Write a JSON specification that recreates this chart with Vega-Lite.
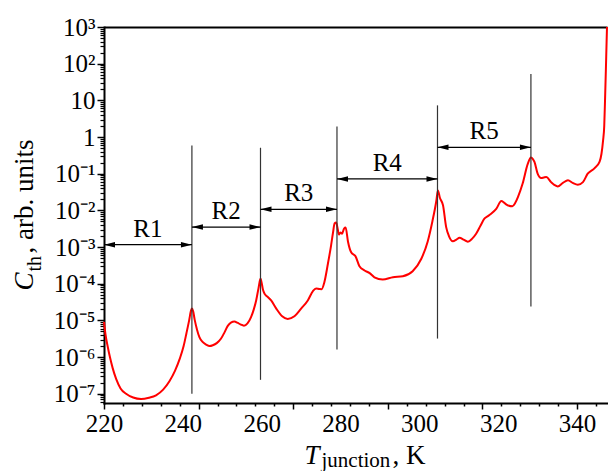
{
  "$schema": "https://vega.github.io/schema/vega-lite/v6.json",
  "width": 503,
  "height": 376,
  "autosize": "none",
  "padding": {"left": 104, "top": 27, "right": 1, "bottom": 68},
  "background": "white",
  "config": {"view": {"stroke": null}, "font": "Liberation Serif",
    "axis": {"grid": false, "labelFont": "Liberation Serif", "titleFont": "Liberation Serif"},
    "text": {"font": "Liberation Serif"}},
  "datasets": {
    "curve": [
      {"t": 220.0, "c": 9.1e-6}, {"t": 220.4, "c": 4e-6}, {"t": 221.0, "c": 1.8e-6}, {"t": 221.5, "c": 1.0e-6},
      {"t": 222.2, "c": 5e-7}, {"t": 223.1, "c": 2.5e-7}, {"t": 224.2, "c": 1.4e-7}, {"t": 225.6, "c": 1e-7},
      {"t": 227.4, "c": 7.9e-8}, {"t": 229.4, "c": 7.2e-8}, {"t": 231.4, "c": 7.8e-8}, {"t": 233.2, "c": 9.1e-8},
      {"t": 235.0, "c": 1.3e-7}, {"t": 236.6, "c": 2.2e-7}, {"t": 238.0, "c": 4.2e-7}, {"t": 239.2, "c": 8.9e-7},
      {"t": 240.2, "c": 2e-6}, {"t": 240.9, "c": 4.4e-6}, {"t": 241.6, "c": 1e-5}, {"t": 242.1, "c": 1.9e-5},
      {"t": 242.3, "c": 2.1e-5}, {"t": 242.6, "c": 1.8e-5}, {"t": 243.0, "c": 1.05e-5}, {"t": 243.6, "c": 5.6e-6},
      {"t": 244.2, "c": 3.5e-6}, {"t": 245.0, "c": 2.6e-6}, {"t": 245.9, "c": 2.2e-6}, {"t": 246.8, "c": 2.0e-6},
      {"t": 247.6, "c": 2.1e-6}, {"t": 248.6, "c": 2.4e-6}, {"t": 249.7, "c": 3.2e-6}, {"t": 250.6, "c": 4.8e-6},
      {"t": 251.4, "c": 7.1e-6}, {"t": 252.2, "c": 8.7e-6}, {"t": 253.1, "c": 9.3e-6}, {"t": 253.8, "c": 8.7e-6},
      {"t": 254.6, "c": 7.8e-6}, {"t": 255.5, "c": 7.2e-6}, {"t": 256.4, "c": 8.3e-6}, {"t": 257.3, "c": 1.23e-5},
      {"t": 258.0, "c": 2e-5}, {"t": 258.6, "c": 3.5e-5}, {"t": 259.2, "c": 7.6e-5}, {"t": 259.7, "c": 1.38e-4},
      {"t": 260.0, "c": 1.05e-4}, {"t": 260.3, "c": 7.1e-5}, {"t": 260.8, "c": 5.2e-5}, {"t": 261.5, "c": 4.4e-5},
      {"t": 262.4, "c": 3.5e-5}, {"t": 263.7, "c": 2.1e-5}, {"t": 265.2, "c": 1.3e-5}, {"t": 266.6, "c": 1.1e-5},
      {"t": 268.3, "c": 1.3e-5}, {"t": 270.0, "c": 2.1e-5}, {"t": 271.7, "c": 3.5e-5}, {"t": 273.0, "c": 6.3e-5},
      {"t": 273.8, "c": 7.4e-5}, {"t": 274.6, "c": 7.2e-5}, {"t": 275.2, "c": 7.1e-5}, {"t": 275.9, "c": 1.1e-4},
      {"t": 276.8, "c": 3.5e-4}, {"t": 277.6, "c": 1.1e-3}, {"t": 278.1, "c": 2.5e-3}, {"t": 278.5, "c": 4.4e-3},
      {"t": 278.9, "c": 4.7e-3}, {"t": 279.2, "c": 3.5e-3}, {"t": 279.6, "c": 2.2e-3}, {"t": 280.0, "c": 2.5e-3},
      {"t": 280.4, "c": 2.3e-3}, {"t": 280.9, "c": 3.2e-3}, {"t": 281.3, "c": 3.4e-3}, {"t": 281.9, "c": 1.4e-3},
      {"t": 282.7, "c": 7.2e-4}, {"t": 283.8, "c": 5.6e-4}, {"t": 284.8, "c": 3e-4}, {"t": 286.1, "c": 2.3e-4},
      {"t": 287.4, "c": 1.95e-4}, {"t": 288.6, "c": 1.5e-4}, {"t": 290.7, "c": 1.3e-4}, {"t": 293.3, "c": 1.5e-4},
      {"t": 295.8, "c": 1.6e-4}, {"t": 298.3, "c": 2.2e-4}, {"t": 300.5, "c": 4.8e-4}, {"t": 302.1, "c": 1.4e-3},
      {"t": 303.3, "c": 5e-3}, {"t": 304.3, "c": 0.018}, {"t": 304.7, "c": 0.035}, {"t": 305.2, "c": 0.022},
      {"t": 306.0, "c": 0.0138}, {"t": 306.8, "c": 3.5e-3}, {"t": 307.5, "c": 2e-3}, {"t": 308.5, "c": 1.45e-3},
      {"t": 309.4, "c": 1.6e-3}, {"t": 310.2, "c": 1.8e-3}, {"t": 311.2, "c": 1.6e-3}, {"t": 312.3, "c": 1.4e-3},
      {"t": 313.4, "c": 1.7e-3}, {"t": 314.4, "c": 2.3e-3}, {"t": 315.5, "c": 3.8e-3}, {"t": 316.5, "c": 6e-3},
      {"t": 317.4, "c": 7e-3}, {"t": 318.2, "c": 8.1e-3}, {"t": 319.5, "c": 0.011}, {"t": 320.8, "c": 0.018},
      {"t": 321.4, "c": 0.0166}, {"t": 322.0, "c": 0.0146}, {"t": 323.6, "c": 0.0129}, {"t": 324.3, "c": 0.0158},
      {"t": 325.0, "c": 0.023}, {"t": 326.2, "c": 0.054}, {"t": 327.5, "c": 0.186}, {"t": 328.3, "c": 0.275},
      {"t": 328.8, "c": 0.25}, {"t": 329.2, "c": 0.21}, {"t": 330.0, "c": 0.1}, {"t": 330.9, "c": 0.076},
      {"t": 331.6, "c": 0.079}, {"t": 332.2, "c": 0.081}, {"t": 333.4, "c": 0.059}, {"t": 334.3, "c": 0.049},
      {"t": 335.1, "c": 0.045}, {"t": 336.4, "c": 0.056}, {"t": 337.7, "c": 0.066}, {"t": 338.9, "c": 0.056},
      {"t": 340.2, "c": 0.05}, {"t": 341.5, "c": 0.059}, {"t": 342.7, "c": 0.1}, {"t": 344.4, "c": 0.14},
      {"t": 345.7, "c": 0.21}, {"t": 346.2, "c": 0.35}, {"t": 346.6, "c": 0.8}, {"t": 346.9, "c": 2},
      {"t": 347.1, "c": 10}, {"t": 347.3, "c": 60}, {"t": 347.5, "c": 400}, {"t": 347.6, "c": 1000}
    ],
    "bounds": [
      {"x": 242.3, "ylo": 1e-7, "yhi": 0.59},
      {"x": 259.7, "ylo": 2.4e-7, "yhi": 0.51},
      {"x": 279.1, "ylo": 1.6e-6, "yhi": 1.95},
      {"x": 304.6, "ylo": 3.2e-6, "yhi": 7.3},
      {"x": 328.3, "ylo": 2.4e-5, "yhi": 52}
    ],
    "arrows": [
      {"name": "R1", "x1": 220, "x2": 242.3, "xm": 231.15, "y": 1.16e-3},
      {"name": "R2", "x1": 242.3, "x2": 259.7, "xm": 251.0, "y": 3.5e-3},
      {"name": "R3", "x1": 259.7, "x2": 279.1, "xm": 269.4, "y": 0.0107},
      {"name": "R4", "x1": 279.1, "x2": 304.6, "xm": 291.85, "y": 0.072},
      {"name": "R5", "x1": 304.6, "x2": 328.3, "xm": 316.45, "y": 0.525}
    ]
  },
  "layer": [
    {
      "data": {"name": "curve"},
      "mark": {"type": "line", "color": "#ff0000", "strokeWidth": 2, "interpolate": "monotone"},
      "encoding": {
        "x": {"field": "t", "type": "quantitative",
          "scale": {"domain": [220, 347.6], "nice": false, "zero": false},
          "axis": {"orient": "bottom",
            "values": [220, 240, 260, 280, 300, 320, 340],
            "ticks": false,
            "domain": true, "domainColor": "black", "domainWidth": 2, "domainCap": "square",
            "labelOverlap": false,
            "labelFont": "Liberation Serif", "labelFontSize": 25, "labelPadding": 8,
            "labelColor": "black", "labelFlush": false,
            "title": "T", "titleFont": "Liberation Serif", "titleFontStyle": "italic", "titleFontWeight": "normal", "titleFontSize": 27,
            "titleColor": "black", "titleAlign": "left", "titleBaseline": "alphabetic", "titleX": 200, "titleY": 60}},
        "y": {"field": "c", "type": "quantitative",
          "scale": {"type": "log", "domain": [5.6e-8, 1000], "nice": false},
          "axis": {"orient": "left",
            "values": [1e-7, 1e-6, 1e-5, 1e-4, 1e-3, 0.01, 0.1, 1, 10, 100, 1000],
            "ticks": true, "tickSize": 7, "tickWidth": 1.5, "tickColor": "black",
            "domain": true, "domainColor": "black", "domainWidth": 2, "domainCap": "square",
            "labelOverlap": false,
            "labelFont": "Liberation Serif", "labelFontSize": 25, "labelPadding": 2, "labelColor": "black", "labelBaseline": "middle",
            "labelExpr": "datum.value > 500 ? '10³' : datum.value > 50 ? '10²' : datum.value > 5 ? '10' : datum.value > 0.5 ? '1' : datum.value > 0.05 ? '10⁻¹' : datum.value > 0.005 ? '10⁻²' : datum.value > 0.0005 ? '10⁻³' : datum.value > 0.00005 ? '10⁻⁴' : datum.value > 0.000005 ? '10⁻⁵' : datum.value > 0.0000005 ? '10⁻⁶' : '10⁻⁷'",
            "title": "C", "titleFont": "Liberation Serif", "titleFontStyle": "italic", "titleFontWeight": "normal", "titleFontSize": 27,
            "titleColor": "black", "titleAngle": 270, "titleAlign": "left", "titleBaseline": "alphabetic",
            "titleX": -72, "titleY": 263}}
      }
    },
    {
      "data": {"name": "bounds"},
      "mark": {"type": "rule", "color": "#333333", "strokeWidth": 1.2},
      "encoding": {
        "x": {"field": "x", "type": "quantitative",
          "axis": {"orient": "bottom", "values": [220, 244, 268, 292, 316, 340], "ticks": true, "tickSize": 6,
            "tickWidth": 1.5, "tickColor": "black", "labels": false, "domain": false,
            "title": "junction", "titleFont": "Liberation Serif", "titleFontWeight": "normal", "titleFontSize": 21, "titleColor": "black",
            "titleAlign": "left", "titleBaseline": "alphabetic", "titleX": 217, "titleY": 63}},
        "y": {"field": "ylo", "type": "quantitative",
          "axis": {"orient": "left",
            "values": [6e-8, 7e-8, 8e-8, 9e-8, 2e-7, 3e-7, 4e-7, 5e-7, 6e-7, 7e-7, 8e-7, 9e-7, 2e-6, 3e-6, 4e-6, 5e-6, 6e-6, 7e-6, 8e-6, 9e-6, 2e-5, 3e-5, 4e-5, 5e-5, 6e-5, 7e-5, 8e-5, 9e-5, 2e-4, 3e-4, 4e-4, 5e-4, 6e-4, 7e-4, 8e-4, 9e-4, 0.002, 0.003, 0.004, 0.005, 0.006, 0.007, 0.008, 0.009, 0.02, 0.03, 0.04, 0.05, 0.06, 0.07, 0.08, 0.09, 0.2, 0.3, 0.4, 0.5, 0.6, 0.7, 0.8, 0.9, 2, 3, 4, 5, 6, 7, 8, 9, 20, 30, 40, 50, 60, 70, 80, 90, 200, 300, 400, 500, 600, 700, 800, 900],
            "ticks": true, "tickSize": 4, "tickWidth": 1.2, "tickColor": "black", "labels": false, "domain": false,
            "title": "th", "titleFont": "Liberation Serif", "titleFontWeight": "normal", "titleFontSize": 20, "titleColor": "black",
            "titleAngle": 270, "titleAlign": "left", "titleBaseline": "alphabetic", "titleX": -64, "titleY": 244}},
        "y2": {"field": "yhi"}
      }
    },
    {
      "data": {"name": "arrows"},
      "mark": {"type": "rule", "color": "black", "strokeWidth": 1.2},
      "encoding": {
        "x": {"field": "x1", "type": "quantitative",
          "axis": {"orient": "bottom", "values": [224.8, 229.6, 234.4, 239.2, 248.8, 253.6, 258.4, 263.2, 272.8, 277.6, 282.4, 287.2, 296.8, 301.6, 306.4, 311.2, 320.8, 325.6, 330.4, 335.2, 344.8],
            "ticks": true, "tickSize": 3, "tickWidth": 1.5, "tickColor": "black", "labels": false, "domain": false,
            "title": ", K", "titleFont": "Liberation Serif", "titleFontWeight": "normal", "titleFontSize": 27, "titleColor": "black",
            "titleAlign": "left", "titleBaseline": "alphabetic", "titleX": 288, "titleY": 60}},
        "x2": {"field": "x2"},
        "y": {"field": "y", "type": "quantitative",
          "axis": {"orient": "left", "ticks": false, "labels": false, "domain": false,
            "title": ", arb. units", "titleFont": "Liberation Serif", "titleFontWeight": "normal", "titleFontSize": 27, "titleColor": "black",
            "titleAngle": 270, "titleAlign": "left", "titleBaseline": "alphabetic", "titleX": -72, "titleY": 226}}
      }
    },
    {
      "data": {"name": "arrows"},
      "mark": {"type": "point", "shape": "M0,0L2,-0.5L2,0.5Z", "filled": true, "size": 121, "color": "black", "opacity": 1},
      "encoding": {
        "x": {"field": "x1", "type": "quantitative",
          "axis": {"orient": "top", "ticks": false, "labels": false, "domain": true, "domainColor": "black",
            "domainWidth": 2, "title": null}},
        "y": {"field": "y", "type": "quantitative", "axis": null}
      }
    },
    {
      "data": {"name": "arrows"},
      "mark": {"type": "point", "shape": "M0,0L-2,-0.5L-2,0.5Z", "filled": true, "size": 121, "color": "black", "opacity": 1},
      "encoding": {
        "x": {"field": "x2", "type": "quantitative", "axis": null},
        "y": {"field": "y", "type": "quantitative", "axis": null}
      }
    },
    {
      "data": {"name": "arrows"},
      "mark": {"type": "text", "font": "Liberation Serif", "fontSize": 25, "color": "black", "baseline": "alphabetic", "dy": -8, "align": "center"},
      "encoding": {
        "x": {"field": "xm", "type": "quantitative", "axis": null},
        "y": {"field": "y", "type": "quantitative", "axis": null},
        "text": {"field": "name"}
      }
    }
  ],
  "resolve": {"axis": {"x": "independent", "y": "independent"}}
}
